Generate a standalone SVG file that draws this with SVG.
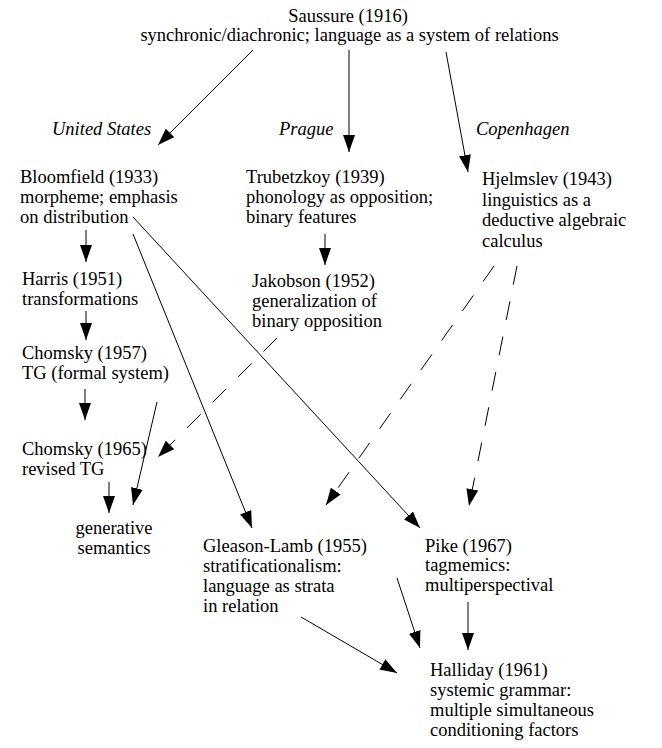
<svg xmlns="http://www.w3.org/2000/svg" width="662" height="748" viewBox="0 0 662 748">
<style>
text{font-family:"Liberation Serif","Times New Roman",serif;font-size:18.5px;fill:#000}
.it{font-style:italic}
.ln{stroke:#000;stroke-width:1;fill:none;marker-end:url(#ah)}
.dash{stroke-dasharray:19 17}
</style>
<defs>
<marker id="ah" markerUnits="userSpaceOnUse" markerWidth="17" markerHeight="12" refX="17" refY="6" orient="auto" viewBox="0 0 17 12">
<path d="M0,0 L17,6 L0,12 Z" fill="#000"/>
</marker>
</defs>
<rect width="662" height="748" fill="#fff"/>
<g id="saussure"><text x="348" y="22" text-anchor="middle">Saussure (1916)</text><text x="349.5" y="41" text-anchor="middle">synchronic/diachronic; language as a system of relations</text></g>
<g id="label-us"><text class="it" x="52" y="135">United States</text></g>
<g id="label-prague"><text class="it" x="279" y="135">Prague</text></g>
<g id="label-copenhagen"><text class="it" x="476" y="135">Copenhagen</text></g>
<g id="bloomfield"><text x="20" y="183">Bloomfield (1933)</text><text x="20" y="203">morpheme; emphasis</text><text x="20" y="223">on distribution</text></g>
<g id="trubetzkoy"><text x="246" y="183">Trubetzkoy (1939)</text><text x="246" y="203">phonology as opposition;</text><text x="246" y="223">binary features</text></g>
<g id="hjelmslev"><text x="482" y="185">Hjelmslev (1943)</text><text x="482" y="206">linguistics as a</text><text x="482" y="226">deductive algebraic</text><text x="482" y="247">calculus</text></g>
<g id="harris"><text x="22" y="285">Harris (1951)</text><text x="22" y="305">transformations</text></g>
<g id="jakobson"><text x="252" y="287">Jakobson (1952)</text><text x="252" y="307">generalization of</text><text x="252" y="327">binary opposition</text></g>
<g id="chomsky1957"><text x="22" y="359">Chomsky (1957)</text><text x="22" y="379">TG (formal system)</text></g>
<g id="chomsky1965"><text x="22" y="455">Chomsky (1965)</text><text x="22" y="475">revised TG</text></g>
<g id="generative-semantics"><text x="114" y="534" text-anchor="middle">generative</text><text x="114" y="554" text-anchor="middle">semantics</text></g>
<g id="gleason-lamb"><text x="203" y="552">Gleason-Lamb (1955)</text><text x="203" y="572">stratificationalism:</text><text x="203" y="592">language as strata</text><text x="203" y="612">in relation</text></g>
<g id="pike"><text x="425" y="552">Pike (1967)</text><text x="425" y="571">tagmemics:</text><text x="425" y="591">multiperspectival</text></g>
<g id="halliday"><text x="430" y="676">Halliday (1961)</text><text x="430" y="696">systemic grammar:</text><text x="430" y="716">multiple simultaneous</text><text x="430" y="736">conditioning factors</text></g>
<g id="connectors">
<line class="ln" x1="253" y1="50" x2="158" y2="145"/>
<line class="ln" x1="349" y1="50" x2="349" y2="152"/>
<line class="ln" x1="446" y1="52" x2="468" y2="172"/>
<line class="ln" x1="86" y1="230" x2="86" y2="262"/>
<line class="ln" x1="86" y1="311" x2="86" y2="340"/>
<line class="ln" x1="85" y1="389" x2="85" y2="420"/>
<line class="ln" x1="109" y1="482" x2="109" y2="513"/>
<line class="ln" x1="157" y1="402" x2="133" y2="505"/>
<line class="ln dash" x1="277" y1="338" x2="158" y2="457"/>
<line class="ln" x1="325" y1="234" x2="325" y2="265"/>
<line class="ln" x1="133" y1="234" x2="252" y2="528"/>
<line class="ln" x1="133" y1="217" x2="420" y2="528"/>
<line class="ln dash" x1="494" y1="266" x2="326" y2="505"/>
<line class="ln dash" x1="517" y1="266" x2="469" y2="506"/>
<line class="ln" x1="397" y1="578" x2="420" y2="648"/>
<line class="ln" x1="301" y1="617" x2="397" y2="673"/>
<line class="ln" x1="468" y1="602" x2="468" y2="650"/>
</g>
</svg>
